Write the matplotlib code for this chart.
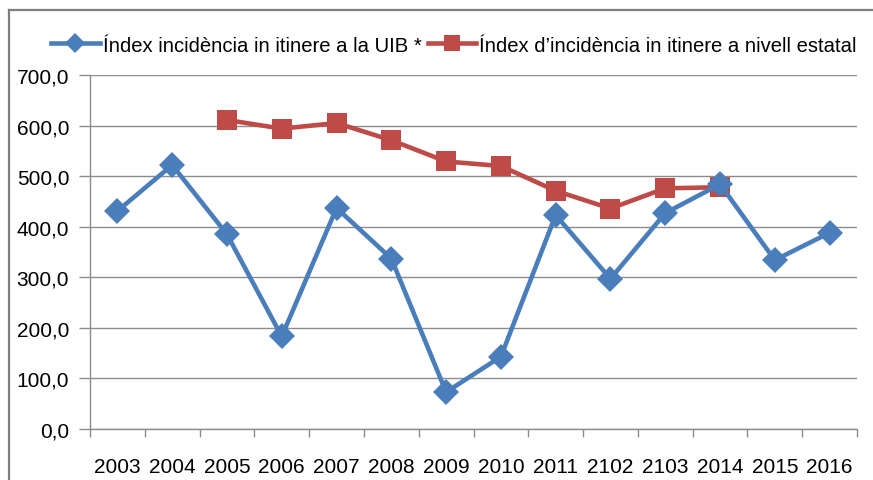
import matplotlib
matplotlib.use("Agg")
import matplotlib.pyplot as plt
from matplotlib.lines import Line2D
from matplotlib.ticker import FuncFormatter, FixedLocator
import numpy as np

years = ["2003", "2004", "2005", "2006", "2007", "2008", "2009",
         "2010", "2011", "2102", "2103", "2014", "2015", "2016"]
uib = [431, 522, 385, 183, 437, 337, 73, 143, 423, 297, 427, 484, 334, 388]
estatal = [None, None, 611, 594, 605, 571, 529, 520, 471, 436, 476, 478, None, None]

uib_label = "Índex incidència in itinere a la UIB *"
estatal_label = "Índex d\u2019incidència in itinere a nivell estatal"

blue = '#4A7EBB'
red = '#BE4B48'
grid_color = '#8C8C8C'

plt.rcParams['font.family'] = ['Liberation Sans', 'DejaVu Sans']
fontsize = 15

fig = plt.figure(figsize=(8.73, 4.81), dpi=100)
ax = fig.add_axes([90 / 873, 1 - 430 / 481, (857 - 90) / 873, (430 - 76) / 481])

x = np.arange(len(years))
est = np.array([np.nan if v is None else v for v in estatal], dtype=float)

ax.plot(x, uib, color=blue, lw=3.3, marker='D', markersize=13,
        markeredgewidth=0, label=uib_label, zorder=3)
ax.plot(x, est, color=red, lw=3.3, marker='s', markersize=14,
        markeredgewidth=0, label=estatal_label, zorder=2)

ax.set_xlim(-0.5, len(years) - 0.5)
ax.set_ylim(0, 700)
ax.set_yticks(np.arange(0, 701, 100))
ax.yaxis.set_major_formatter(FuncFormatter(lambda v, p: f"{v:.1f}".replace('.', ',')))
ax.set_xticks(x)
ax.set_xticklabels(years)
ax.xaxis.set_minor_locator(FixedLocator(np.arange(-0.5, len(years), 1)))

ax.tick_params(axis='x', which='major', length=0, pad=20, labelsize=fontsize)
ax.tick_params(axis='x', which='minor', length=6, width=1, color=grid_color)
ax.tick_params(axis='y', length=8, width=1, color=grid_color, pad=7, labelsize=fontsize)

ax.grid(True, axis='y', color=grid_color, lw=1)
ax.set_axisbelow(True)
for side in ['top', 'right']:
    ax.spines[side].set_visible(False)
for side in ['left', 'bottom']:
    ax.spines[side].set_color(grid_color)
    ax.spines[side].set_linewidth(1)

# outer chart border (only top and left visible in the crop)
fig.add_artist(Line2D([8.5 / 873, 8.5 / 873], [0, 1 - 11 / 481],
                      color='#7F7F7F', lw=1.6, transform=fig.transFigure))
fig.add_artist(Line2D([8.5 / 873, 1], [1 - 11 / 481, 1 - 11 / 481],
                      color='#7F7F7F', lw=1.6, transform=fig.transFigure))

fig.legend(loc='center', bbox_to_anchor=(454 / 873, 1 - 46 / 481), ncol=2,
           frameon=False, fontsize=14.6, handlelength=2.4, markerscale=0.8,
           handletextpad=0.15, columnspacing=0.3, borderaxespad=0)

plt.savefig("out.png", dpi=100)
plt.close()
